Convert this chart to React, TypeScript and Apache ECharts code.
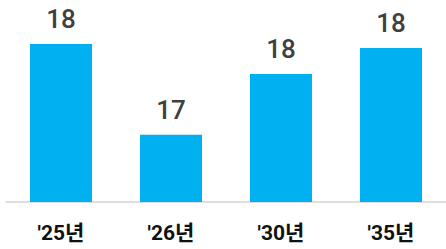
import React, { useEffect, useRef } from "react";
import * as echarts from "echarts";

const categories = ["'25년", "'26년", "'30년", "'35년"];
const values = [18.37, 17.01, 17.92, 18.31];
const yMin = 16;
const yMax = 19;

export default function App() {
  const ref = useRef<HTMLDivElement>(null);
  useEffect(() => {
    if (!ref.current) return;
    const chart = echarts.init(ref.current, undefined, { renderer: "svg" });
    chart.setOption({
      animation: false,
      grid: { left: 6, width: 448, top: 2, bottom: 47, containLabel: false },
      xAxis: {
        type: "category",
        data: categories,
        axisLine: { show: true, lineStyle: { color: "#d4d4d4", width: 1.5 } },
        axisTick: { show: false },
        axisLabel: {
          color: "#111111",
          fontSize: 21,
          fontWeight: "bold",
          fontFamily: "Roboto, 'Noto Sans CJK KR'",
          margin: 20,
        },
      },
      yAxis: {
        type: "value",
        min: yMin,
        max: yMax,
        show: false,
        splitLine: { show: false },
      },
      series: [
        {
          type: "bar",
          data: values,
          barWidth: 62,
          itemStyle: { color: "#00B0F0" },
          label: {
            show: true,
            position: "top",
            distance: 12,
            color: "#404040",
            fontSize: 26,
            fontWeight: 500,
            fontFamily: "Roboto, 'Noto Sans CJK KR'",
            formatter: (p: any) => String(Math.round(p.value)),
          },
        },
      ],
    });
    return () => chart.dispose();
  }, []);
  return <div ref={ref} style={{ width: 446, height: 249, position: "absolute", left: 0, top: 0 }} />;
}
